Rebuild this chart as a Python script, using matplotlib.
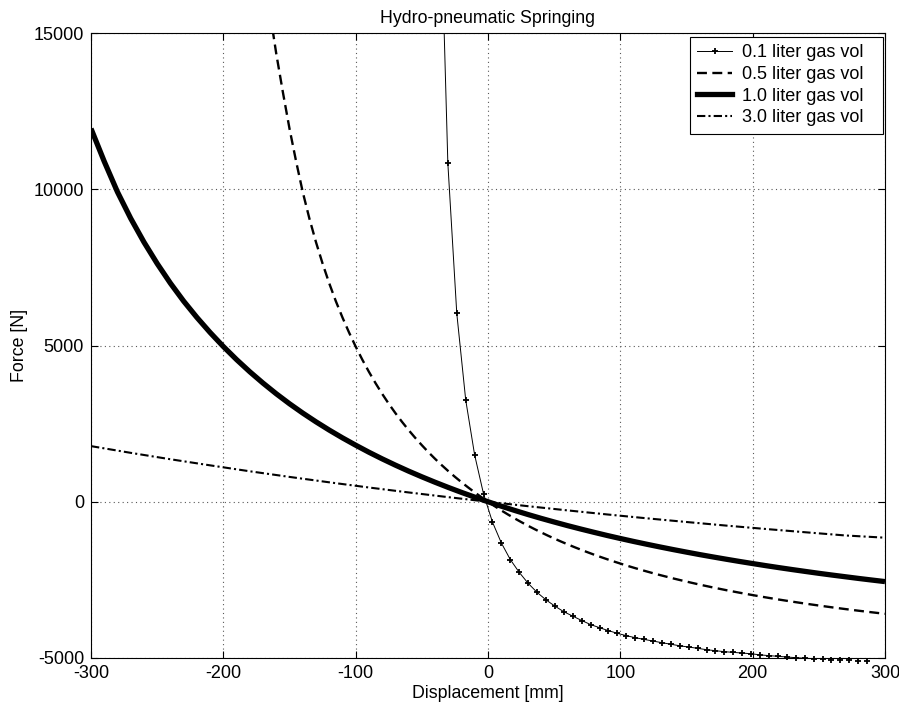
import matplotlib
matplotlib.use("Agg")
import matplotlib.pyplot as plt
from matplotlib.lines import Line2D

plt.rcParams['font.family'] = ['Liberation Sans', 'DejaVu Sans']
plt.rcParams['axes.unicode_minus'] = False

title = "Hydro-pneumatic Springing"
xlabel = "Displacement [mm]"
ylabel = "Force [N]"
labels = ["0.1 liter gas vol", "0.5 liter gas vol", "1.0 liter gas vol", "3.0 liter gas vol"]
xticks = [-300, -200, -100, 0, 100, 200, 300]
yticks = [-5000, 0, 5000, 10000, 15000]

# 0.1 liter (marked points)
x01 = [-37.08, -30.34, -23.60, -16.85, -10.11, -3.37, 3.37, 10.11, 16.85, 23.60, 30.34, 37.08,
       43.82, 50.56, 57.30, 64.04, 70.79, 77.53, 84.27, 91.01, 97.75, 104.49, 111.24, 117.98,
       124.72, 131.46, 138.20, 144.94, 151.69, 158.43, 165.17, 171.91, 178.65, 185.39, 192.13,
       198.88, 205.62, 212.36, 219.10, 225.84, 232.58, 239.33, 246.07, 252.81, 259.55, 266.29,
       273.03, 279.78, 286.52]
f01 = [21000, 10830, 6030, 3260, 1500, 250, -650, -1320, -1850, -2260, -2610, -2900,
       -3140, -3340, -3520, -3660, -3800, -3930, -4030, -4125, -4210, -4285, -4350, -4405,
       -4458, -4510, -4560, -4610, -4650, -4690, -4735, -4766, -4798, -4820, -4842,
       -4864, -4900, -4924, -4946, -4968, -4990, -5008, -5022, -5040, -5052, -5064,
       -5074, -5084, -5090]

# 0.5 liter
x05 = [-170, -165, -160, -155, -150, -145, -140, -135, -130, -125, -120, -115, -110, -105,
       -100, -95, -90, -85, -80, -75, -70, -65, -60, -55, -50, -45, -40, -35, -30, -25, -20,
       -15, -10, -5, 0, 5, 10, 15, 20, 25, 30, 35, 40, 45, 50, 55, 60, 65, 70, 75, 80, 85, 90,
       95, 100, 105, 110, 115, 120, 125, 130, 135, 140, 145, 150, 160, 170, 180, 190, 200,
       210, 220, 230, 240, 250, 260, 270, 280, 290, 300]
f05 = [17269, 15717, 14337, 13105, 11940, 10890, 9913, 9068, 8309, 7622, 6993, 6420, 5899, 5416,
       4967, 4549, 4159, 3796, 3455, 3136, 2838, 2558, 2294, 2045, 1810, 1585, 1373, 1172, 980,
       798, 624, 458, 299, 147, 0, -141, -276, -406, -530, -648, -763, -872, -977, -1079, -1176,
       -1270, -1360, -1447, -1531, -1612, -1691, -1766, -1839, -1910, -1978, -2045, -2109, -2171,
       -2231, -2290, -2346, -2400, -2454, -2505, -2555, -2652, -2743, -2829, -2910, -2987,
       -3061, -3131, -3197, -3261, -3321, -3379, -3434, -3487, -3537, -3586]

# 1.0 liter
x10 = [-300, -290, -280, -270, -260, -250, -240, -230, -220, -210, -200, -190, -180, -170,
       -160, -150, -140, -130, -120, -110, -100, -90, -80, -70, -60, -50, -40, -30, -20, -10,
       0, 10, 20, 30, 40, 50, 60, 70, 80, 90, 100, 110, 120, 130, 140, 150, 160, 170, 180, 190,
       200, 210, 220, 230, 240, 250, 260, 270, 280, 290, 300]
f10 = [11940, 10890, 9913, 9068, 8309, 7622, 6993, 6420, 5899, 5416, 4967, 4549, 4159, 3796,
       3455, 3136, 2838, 2558, 2294, 2045, 1810, 1585, 1373, 1172, 980, 798, 624, 458, 299, 147,
       0, -141, -276, -406, -530, -648, -763, -872, -977, -1079, -1176, -1270, -1360, -1447,
       -1531, -1612, -1691, -1766, -1839, -1910, -1978, -2045, -2109, -2171, -2231, -2290,
       -2346, -2400, -2454, -2505, -2555]

# 3.0 liter
x30 = [-300, -270, -240, -210, -180, -150, -120, -90, -60, -30, 0, 30, 60, 90, 120, 150,
       180, 210, 240, 270, 300]
f30 = [1780, 1565, 1360, 1165, 975, 795, 622, 456, 298, 147, 0, -141, -276, -406, -530,
       -648, -763, -872, -977, -1079, -1150]

fig = plt.figure(figsize=(8.99, 7.11), dpi=100)
ax = fig.add_axes([91/899, 1-658/711, (885-91)/899, (658-33)/711])

ls05 = (0, (4.2, 2.3))
ls30 = (0, (4.0, 1.5, 1.0, 1.5))

# 0.1 line (clipped) + markers
ax.plot(x01, f01, color='black', lw=0.7, zorder=3)
mx = [x for x, f in zip(x01, f01) if -5100 <= f <= 15000]
mf = [f for f in f01 if -5100 <= f <= 15000]
ax.plot(mx, mf, linestyle='none', marker='+', ms=4, mew=1.3, color='black',
        clip_on=False, zorder=4)
ax.plot(x05, f05, color='black', lw=1.7, linestyle=ls05, zorder=3)
ax.plot(x10, f10, color='black', lw=3.8, solid_capstyle='butt', zorder=3)
ax.plot(x30, f30, color='black', lw=1.5, linestyle=ls30, zorder=3)

# legend
h01 = Line2D([0, 0.5, 1], [0, 0, 0], color='black', lw=0.7, marker='+', ms=4, mew=1.3,
             markevery=[1])
handles = [
    h01,
    Line2D([], [], color='black', lw=1.7, linestyle=ls05),
    Line2D([], [], color='black', lw=3.8),
    Line2D([], [], color='black', lw=1.5, linestyle=ls30),
]
x0 = (690 - 91) / 794
x1 = (883 - 91) / 794
ytop = (658 - 37) / 625
leg = ax.legend(handles, labels, loc='upper left', bbox_to_anchor=(x0, ytop - 0.2, x1 - x0, 0.2),
                mode='expand', fontsize=13, frameon=True, fancybox=False,
                edgecolor='black', framealpha=1, borderaxespad=0.0, handlelength=1.95,
                handletextpad=0.55, labelspacing=0.26, borderpad=0.4)
leg.get_frame().set_linewidth(0.8)
leg.set_zorder(10)

ax.set_xlim(-300, 300)
ax.set_ylim(-5000, 15000)
ax.set_xticks(xticks)
ax.set_yticks(yticks)
ax.grid(True, color='0.35', linestyle=(0, (1, 3)), lw=0.8)
ax.tick_params(direction='in', length=5, width=0.8, top=True, right=True, labelsize=13, pad=5)
for s in ax.spines.values():
    s.set_linewidth(0.8)
ax.set_title(title, fontsize=12.8, pad=7)
ax.set_xlabel(xlabel, fontsize=12.8, labelpad=2)
ax.set_ylabel(ylabel, fontsize=12.8, labelpad=4)

fig.savefig("out.png", dpi=100)
